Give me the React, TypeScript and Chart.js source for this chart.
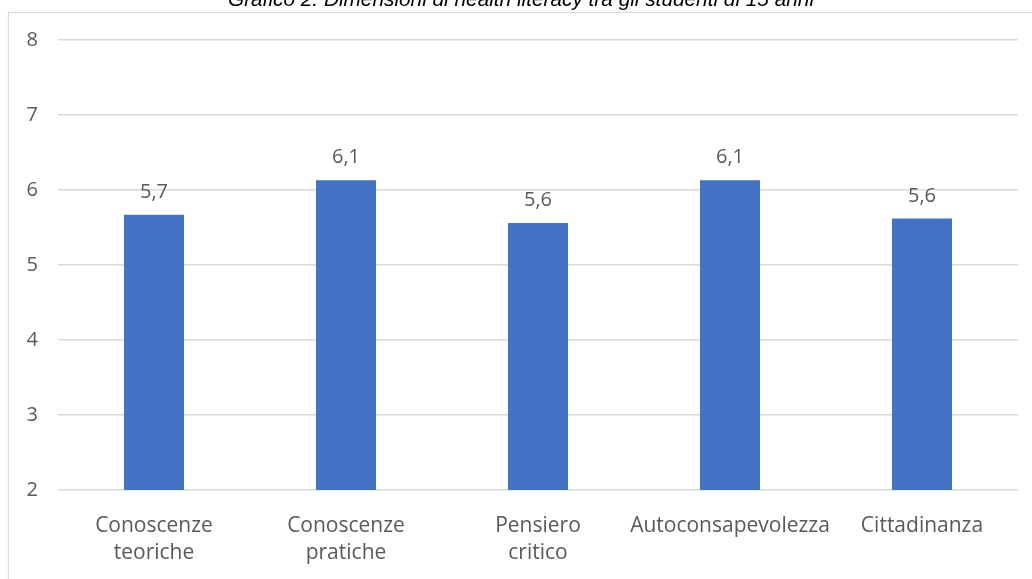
import React, { useEffect, useRef } from "react";
import { Chart, registerables } from "chart.js";

Chart.register(...registerables);

const TITLE = "Grafico 2. Dimensioni di health literacy tra gli studenti di 15 anni";
const categories: string[][] = [
  ["Conoscenze", "teoriche"],
  ["Conoscenze", "pratiche"],
  ["Pensiero", "critico"],
  ["Autoconsapevolezza"],
  ["Cittadinanza"],
];
const values: number[] = [5.67, 6.13, 5.56, 6.13, 5.62];
const Y_MIN = 2;
const Y_MAX = 8;
const Y_STEP = 1;

const BAR_COLOR = "#4472C4";
const TEXT_COLOR = "#595959";
const GRID_COLOR = "#d9d9d9";
const FONT = "'Open Sans', sans-serif";

const valueLabels = {
  id: "valueLabels",
  afterDatasetsDraw(chart: any) {
    const ctx = chart.ctx;
    const meta = chart.getDatasetMeta(0);
    ctx.save();
    ctx.fillStyle = TEXT_COLOR;
    ctx.font = `20px ${FONT}`;
    ctx.textAlign = "center";
    ctx.textBaseline = "alphabetic";
    meta.data.forEach((bar: any, i: number) => {
      const txt = values[i].toFixed(1).replace(".", ",");
      ctx.fillText(txt, bar.x, bar.y - 17);
    });
    ctx.restore();
  },
};

export default function App() {
  const ref = useRef<HTMLCanvasElement | null>(null);
  useEffect(() => {
    if (!ref.current) return;
    const chart = new Chart(ref.current, {
      type: "bar",
      data: {
        labels: categories,
        datasets: [
          {
            data: values,
            backgroundColor: BAR_COLOR,
            categoryPercentage: 1,
            barPercentage: 0.3125,
          },
        ],
      },
      options: {
        animation: false,
        responsive: false,
        devicePixelRatio: 1,
        layout: { padding: { top: 40, right: 14, left: 0, bottom: 0 } },
        plugins: { legend: { display: false }, tooltip: { enabled: false }, title: { display: false } },
        scales: {
          x: {
            grid: { display: false, drawTicks: false },
            border: { display: false },
            ticks: {
              color: TEXT_COLOR,
              font: { family: FONT, size: 21, lineHeight: 1.3 },
              maxRotation: 0,
              autoSkip: false,
              padding: 22,
            },
            afterFit(scale: any) {
              scale.height = 89;
            },
          },
          y: {
            min: Y_MIN,
            max: Y_MAX,
            grid: { color: GRID_COLOR, lineWidth: 1.5, drawTicks: false },
            border: { display: false },
            ticks: {
              stepSize: Y_STEP,
              color: TEXT_COLOR,
              font: { family: FONT, size: 20 },
              padding: 20,
            },
            afterFit(scale: any) {
              scale.width = 58;
            },
          },
        },
      },
      plugins: [valueLabels],
    });
    return () => chart.destroy();
  }, []);

  return (
    <div style={{ position: "fixed", left: 0, top: 0, width: 1032, height: 579, overflow: "hidden", background: "#fff" }}>
      <div
        style={{
          position: "absolute",
          left: 8,
          top: 12,
          width: 1100,
          height: 700,
          border: "1px solid #d9d9d9",
          boxShadow: "0 0 2px rgba(0,0,0,0.08)",
        }}
      />
      <canvas ref={ref} width={1032} height={579} style={{ position: "absolute", left: 0, top: 0 }} />
      <div
        style={{
          position: "absolute",
          left: 0,
          top: -11,
          width: 1042,
          textAlign: "center",
          fontFamily: "'Liberation Sans', Arial, sans-serif",
          fontStyle: "italic",
          fontSize: 20.8,
          lineHeight: "20px",
          color: "#000",
          whiteSpace: "nowrap",
        }}
      >
        {TITLE}
      </div>
    </div>
  );
}
